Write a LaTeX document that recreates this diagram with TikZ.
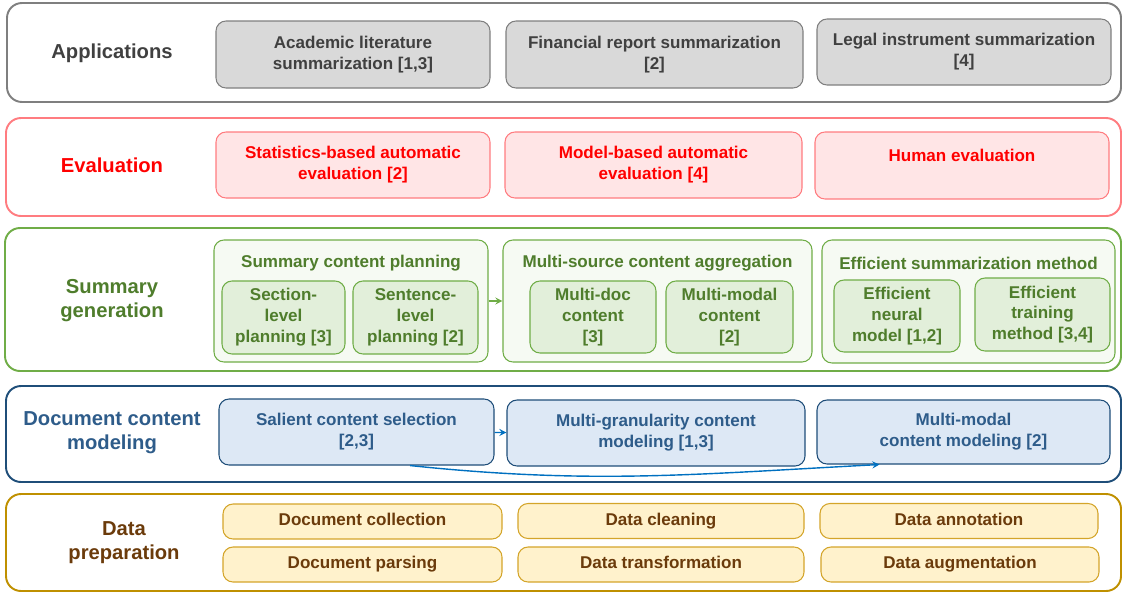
\documentclass[tikz,border=0pt]{standalone}
\usepackage{fontspec}
\setmainfont{Liberation Sans}
\usepackage{xcolor}
\usepackage{tikz}
\usetikzlibrary{positioning}
\usetikzlibrary{calc}

\definecolor{grayline}{HTML}{7F7F7F}
\definecolor{grayfill}{HTML}{D9D9D9}
\definecolor{graytext}{HTML}{404040}
\definecolor{redline}{HTML}{FF7C80}
\definecolor{redfill}{HTML}{FFE5E6}
\definecolor{redtext}{HTML}{FF0000}
\definecolor{greenline}{HTML}{70AD47}
\definecolor{groupfill}{HTML}{F6FAF3}
\definecolor{subfill}{HTML}{E2EFDA}
\definecolor{greentext}{HTML}{4F7D2C}
\definecolor{blueline}{HTML}{1F4E79}
\definecolor{bluefill}{HTML}{DDE8F5}
\definecolor{bluetext}{HTML}{2E5C8A}
\definecolor{bluearrow}{HTML}{0070C0}
\definecolor{goldline}{HTML}{BF9000}
\definecolor{goldbox}{HTML}{D4A52A}
\definecolor{goldfill}{HTML}{FFF2CC}
\definecolor{browntext}{HTML}{6B3B0B}

\begin{document}
\begin{tikzpicture}[x=0.02cm, y=-0.02cm, >=stealth,
    layer/.style={draw, rounded corners=0.3cm, line width=1.1pt, inner sep=0pt},
    box/.style={draw, rounded corners=0.2cm, line width=0.6pt, inner sep=0pt, align=center,
        font=\fontsize{9.7}{11.9}\selectfont\bfseries},
    head/.style={align=center, font=\fontsize{11.5}{13.6}\selectfont\bfseries},
    gtitle/.style={font=\fontsize{9.7}{11.9}\selectfont\bfseries, text=greentext},
    wh/.style 2 args={minimum width=#1*0.02cm, minimum height=#2*0.02cm}]
    \useasboundingbox (0,0) rectangle (1124,592);

    % Define the five layers
    \node[layer, draw=grayline, wh={1114}{99}] (apps) at (564,52.5) {};
    \node[layer, draw=redline, wh={1115}{98}] (eval) at (563.5,167) {};
    \node[layer, draw=greenline, wh={1116}{143}] (gen) at (563,299.5) {};
    \node[layer, draw=blueline, wh={1115}{96}] (doc) at (563.5,434) {};
    \node[layer, draw=goldline, wh={1115}{97}] (data) at (563.5,542.5) {};

    % Label the layers
    \node[head, text=graytext] (appsT) at (112,53) {Applications};
    \node[head, text=redtext] (evalT) at (112,165) {Evaluation};
    \node[head, text=greentext] (genT) at (112,301) {Summary\\generation};
    \node[head, text=bluetext] (docT) at (112,433) {Document content\\modeling};
    \node[head, text=browntext] (dataT) at (124,543) {Data\\preparation};

    % Applications
    \node[box, draw=grayline, fill=grayfill, text=graytext, wh={274}{67}] (a1) at (353,54.5) {Academic literature\\summarization [1,3]};
    \node[box, draw=grayline, fill=grayfill, text=graytext, wh={297}{67}] (a2) at (654.5,54.5) {Financial report summarization\\{[2]}};
    \node[box, draw=grayline, fill=grayfill, text=graytext, wh={294}{66}] (a3) at (964,52) {Legal instrument summarization\\{[4]}};

    % Evaluation
    \node[box, draw=redline, fill=redfill, text=redtext, wh={274}{66}] (e1) at (353,165) {Statistics-based automatic\\evaluation [2]};
    \node[box, draw=redline, fill=redfill, text=redtext, wh={297}{66}] (e2) at (653.5,165) {Model-based automatic\\evaluation [4]};
    \node[box, draw=redline, fill=redfill, text=redtext, wh={294}{67}] (e3) at (962,165.5) {Human evaluation\\\mbox{}};

    % Summary generation groups
    \node[box, draw=greenline, fill=groupfill, wh={274}{122}] (g1) at (351,301) {};
    \node[box, draw=greenline, fill=groupfill, wh={309}{122}] (g2) at (657.5,301) {};
    \node[box, draw=greenline, fill=groupfill, wh={293}{123}] (g3) at (968.5,301.5) {};
    \node[gtitle] (g1T) at ([yshift=-0.48cm]g1.north) {Summary content planning};
    \node[gtitle] (g2T) at ([yshift=-0.48cm]g2.north) {Multi-source content aggregation};
    \node[gtitle] (g3T) at ([yshift=-0.48cm]g3.north) {Efficient summarization method};

    \node[box, draw=greenline, fill=subfill, text=greentext, wh={123}{73}] (s1) at (283.5,317.5) {Section-\\level\\planning [3]};
    \node[box, draw=greenline, fill=subfill, text=greentext, wh={125}{73}] (s2) at (415.5,317.5) {Sentence-\\level\\planning [2]};
    \node[box, draw=greenline, fill=subfill, text=greentext, wh={126}{72}] (s3) at (593,317) {Multi-doc\\content\\{[3]}};
    \node[box, draw=greenline, fill=subfill, text=greentext, wh={127}{72}] (s4) at (729.5,317) {Multi-modal\\content\\{[2]}};
    \node[box, draw=greenline, fill=subfill, text=greentext, wh={126}{72}] (s5) at (897,316) {Efficient\\neural\\model [1,2]};
    \node[box, draw=greenline, fill=subfill, text=greentext, wh={135}{73}] (s6) at (1042.5,314.5) {Efficient\\training\\method [3,4]};

    % Document content modeling
    \node[box, draw=blueline, fill=bluefill, text=bluetext, wh={275}{66}] (d1) at (356.5,432) {Salient content selection\\{[2,3]}};
    \node[box, draw=blueline, fill=bluefill, text=bluetext, wh={298}{66}] (d2) at (656,433) {Multi-granularity content\\modeling [1,3]};
    \node[box, draw=blueline, fill=bluefill, text=bluetext, wh={293}{64}] (d3) at (963.5,432) {Multi-modal\\content modeling [2]};

    % Data preparation
    \foreach \n/\x/\y/\w/\t in {c1/362.5/521.5/279/Document collection, c2/362.5/564.5/279/Document parsing,
                                c3/661/521/286/Data cleaning, c4/661/564.5/286/Data transformation,
                                c5/959/521/278/Data annotation, c6/960/564.5/278/Data augmentation} {
        \node[box, draw=goldbox, fill=goldfill, text=browntext, wh={\w}{35}] (\n) at (\x,\y) {\strut\t};
    }

    % Paths
    \draw[->, greenline, line width=0.8pt] (g1) -- (g2);
    \draw[->, bluearrow, line width=0.8pt] (d1) -- (d2);
    \draw[->, bluearrow, line width=0.8pt] ([xshift=1.07cm]d1.south) to[out=-6, in=183] ([xshift=1.26cm]d3.south west);
\end{tikzpicture}
\end{document}
